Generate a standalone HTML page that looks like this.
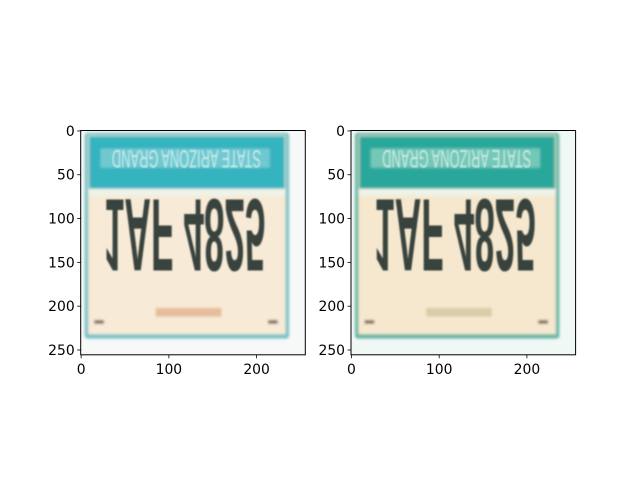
<!DOCTYPE html>
<html><head><meta charset="utf-8"><style>
body{margin:0;background:#fff;}
svg text{font-family:"DejaVu Sans","Liberation Sans",sans-serif;}
svg text.plate{font-family:"Liberation Sans","DejaVu Sans",sans-serif;}
</style></head><body>
<svg width="640" height="480" viewBox="0 0 640 480">
<defs>
<filter id="blur" x="-5%" y="-5%" width="110%" height="110%"><feGaussianBlur stdDeviation="1.3"/></filter>
<filter id="blur2" x="-5%" y="-5%" width="110%" height="110%"><feGaussianBlur stdDeviation="0.7"/></filter>
</defs>
<g id="root"></g>
</svg>
<script>
const yTicks = [0, 50, 100, 150, 200, 250];
const xTicks = [0, 100, 200];
const imgSize = [256, 256];
const panels = [
  {name:'left', x0:80.7, y0:130.5, header:'#35b3bf', headerLight:'#9fdbe0', body:'#f7ead6', frame:'#7cc3c8', sub:'#d08a5a', bg:'#f6f9f8'},
  {name:'right', x0:351, y0:130.5, header:'#2aa79b', headerLight:'#b3e3cf', body:'#f5e8cf', frame:'#6cb8a6', sub:'#b9ad78', bg:'#f0f8f6'}
];
const W = 224.6, H = 224.3;
const NS = 'http://www.w3.org/2000/svg';
const root = document.getElementById('root');
function mk(tag, attrs, parent){ const e=document.createElementNS(NS,tag); for(const k in attrs) e.setAttribute(k,attrs[k]); (parent||root).appendChild(e); return e; }

panels.forEach(p=>{
  const sx = W/imgSize[0], sy = H/imgSize[1];
  const X = v => p.x0 + (v+0.5)*sx;
  const Y = v => p.y0 + (v+0.5)*sy;
  const g = mk('g',{});
  
  
  const clip = mk('clipPath',{id:'c'+p.name});
  mk('rect',{x:p.x0,y:p.y0,width:W,height:H},clip);
  const img = mk('g',{'clip-path':'url(#c'+p.name+')'},g);
  mk('rect',{x:p.x0,y:p.y0,width:W,height:H,fill:p.bg},img);
  const bl = mk('g',{filter:'url(#blur)'},img);
  mk('rect',{x:X(4),y:Y(2),width:X(237)-X(4),height:Y(237)-Y(2),fill:p.frame,rx:3},bl);
  mk('rect',{x:X(8),y:Y(5),width:X(233)-X(8),height:Y(232)-Y(5),fill:p.body},bl);
  mk('rect',{x:X(9),y:Y(6),width:X(232)-X(9),height:Y(66)-Y(6),fill:p.header},bl);
  mk('rect',{x:X(22),y:Y(20),width:X(215)-X(22),height:Y(42)-Y(20),fill:p.headerLight,opacity:0.55},bl);
  mk('rect',{x:X(8),y:Y(66),width:X(233)-X(8),height:Y(74)-Y(66),fill:'#eef3e8'},bl);
  mk('rect',{x:X(85),y:Y(202),width:X(160)-X(85),height:Y(212)-Y(202),fill:p.sub,opacity:0.45},bl);
  mk('rect',{x:X(15),y:Y(216),width:X(26)-X(15),height:Y(220)-Y(216),fill:'#7a6458'},bl);
  mk('rect',{x:X(213),y:Y(216),width:X(224)-X(213),height:Y(220)-Y(216),fill:'#7a6458'},bl);
  const tg = mk('g',{filter:'url(#blur2)'},img);
  const t = mk('text',{'class':'plate',x:0,y:0,'font-size':118*sy,'font-weight':'bold',fill:'#25302f',
    transform:`translate(${X(26)},${Y(78)}) scale(1,-1)`,textLength:X(210)-X(26),lengthAdjust:'spacingAndGlyphs',opacity:0.9},tg);
  t.textContent='1AF 4825';
  
  
  const t2 = mk('text',{'class':'plate',x:0,y:0,'font-size':28*sy,fill:'#e4f4f2',
    transform:`translate(${X(205)},${Y(22)}) scale(-1,-1)`,textLength:X(205)-X(35),lengthAdjust:'spacingAndGlyphs',opacity:0.8},tg);
  t2.textContent='STATE ARIZONA GRAND';
  
  
  const f = mk('rect',{x:p.x0,y:p.y0,width:W,height:H,fill:'none',stroke:'#000','stroke-width':1},g);
  
  
  yTicks.forEach(v=>{
    mk('line',{x1:p.x0,x2:p.x0-3.5,y1:Y(v),y2:Y(v),stroke:'#000','stroke-width':0.8},g);
    const l = mk('text',{x:p.x0-6,y:Y(v)+5,'font-size':13.9,'text-anchor':'end',fill:'#000'},g);
    l.textContent = v;
    
    
  });
  xTicks.forEach(v=>{
    mk('line',{x1:X(v),x2:X(v),y1:p.y0+H,y2:p.y0+H+3.5,stroke:'#000','stroke-width':0.8},g);
    const l = mk('text',{x:X(v),y:p.y0+H+19,'font-size':13.9,'text-anchor':'middle',fill:'#000'},g);
    l.textContent = v;
    
    
  });
});
</script>
</body></html>
